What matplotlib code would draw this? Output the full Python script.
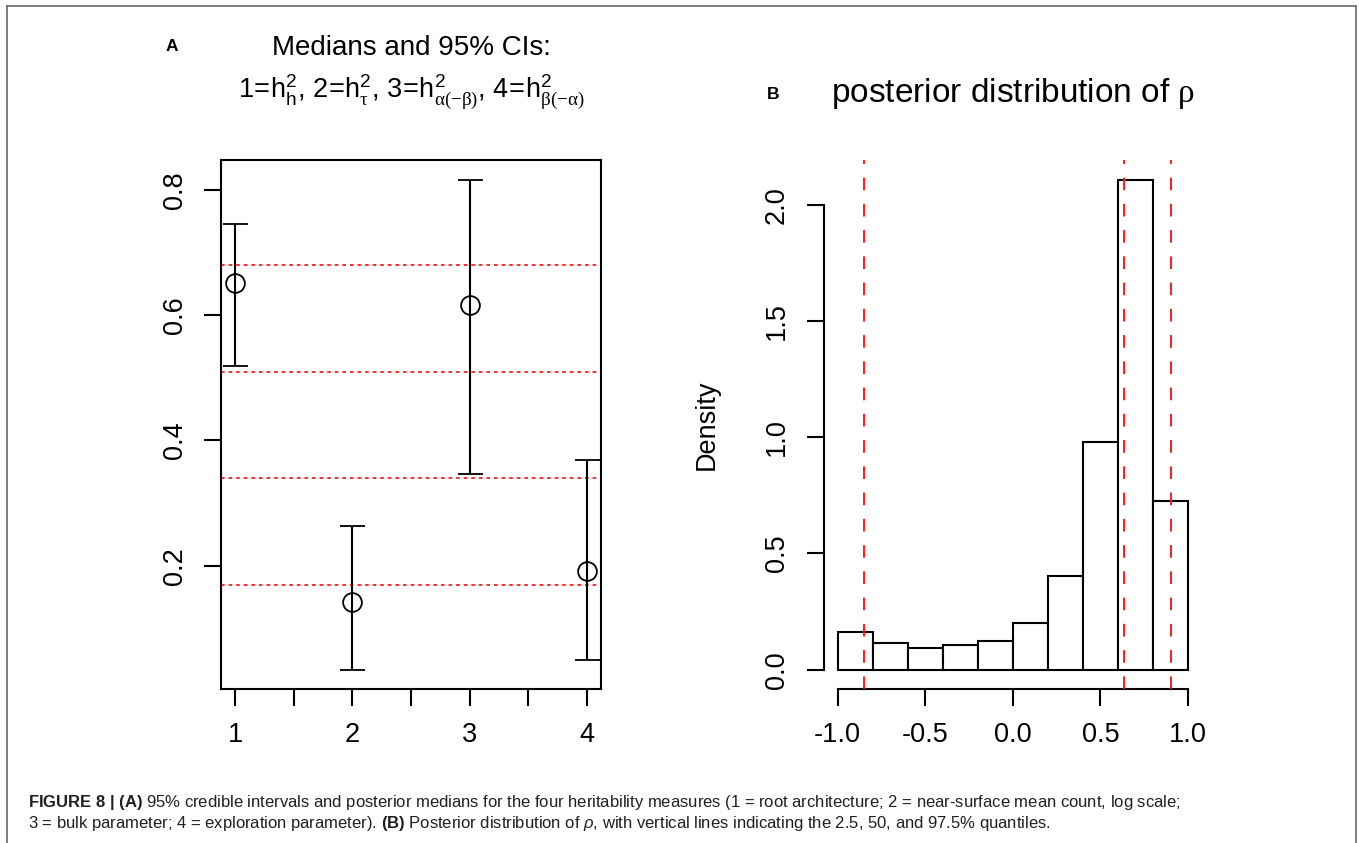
import matplotlib
matplotlib.use('Agg')
import matplotlib.pyplot as plt
from matplotlib.lines import Line2D

plt.rcParams['font.family'] = ['Liberation Sans', 'DejaVu Sans']
plt.rcParams['mathtext.fontset'] = 'custom'
plt.rcParams['mathtext.rm'] = 'Liberation Sans'
plt.rcParams['mathtext.it'] = 'Liberation Sans:italic'
plt.rcParams['mathtext.bf'] = 'Liberation Sans:bold'
plt.rcParams['mathtext.sf'] = 'Liberation Serif'  # used for the Greek letters
plt.rcParams['mathtext.default'] = 'regular'

# panel A: heritability medians and 95% CIs
measures = [1, 2, 3, 4]
medians = [0.652, 0.142, 0.617, 0.191]
ci_lower = [0.519, 0.034, 0.346, 0.050]
ci_upper = [0.746, 0.263, 0.816, 0.369]
ref_levels = [0.17, 0.34, 0.51, 0.68]
a_xticks = [1, 1.5, 2, 2.5, 3, 3.5, 4]
a_xlabels = ['1', '', '2', '', '3', '', '4']
a_yticks = [0.2, 0.4, 0.6, 0.8]
a_ylabels = ['0.2', '0.4', '0.6', '0.8']

# panel B: posterior of rho
rho_edges = [-1.0, -0.8, -0.6, -0.4, -0.2, 0.0, 0.2, 0.4, 0.6, 0.8, 1.0]
rho_density = [0.162, 0.117, 0.095, 0.107, 0.124, 0.202, 0.402, 0.980, 2.107, 0.727]
rho_quantiles = [-0.848, 0.637, 0.901]
b_xticks = [-1.0, -0.5, 0.0, 0.5, 1.0]
b_xlabels = ['-1.0', '-0.5', '0.0', '0.5', '1.0']
b_yticks = [0.0, 0.5, 1.0, 1.5, 2.0]
b_ylabels = ['0.0', '0.5', '1.0', '1.5', '2.0']

W, H = 1360, 843
fig = plt.figure(figsize=(W / 100, H / 100), dpi=100)


def fx(px):
    return px / W


def fy(py):
    return 1 - py / H


TICK_FS = 19.5
LW = 1.5
RED = '#ff1a1a'


def r_range(lo, hi):
    # R-style 4% axis extension
    r = hi - lo
    return lo - 0.04 * r, hi + 0.04 * r


def style_ticks(ax):
    ax.tick_params(axis='both', length=12.2, width=LW, labelsize=TICK_FS,
                   direction='out', colors='black')
    ax.tick_params(axis='x', pad=11.5)
    ax.tick_params(axis='y', pad=12)
    for lab in ax.get_yticklabels():
        lab.set_rotation(90)
        lab.set_va('center')
        lab.set_ha('right')


# ---------- panel A ----------
axA = fig.add_axes([fx(221.3), fy(689.3), fx(600.7) - fx(221.3), fy(160.3) - fy(689.3)])
for lvl in ref_levels:
    ln = axA.axhline(lvl, color=RED, lw=1.3, zorder=1)
    ln.set_dashes([2.0, 2.2])
yerr = [[m - l for m, l in zip(medians, ci_lower)],
        [u - m for m, u in zip(medians, ci_upper)]]
axA.errorbar(measures, medians, yerr=yerr, fmt='o', color='black', mfc='none',
             ms=13.5, mew=1.3, elinewidth=LW, capsize=9, capthick=LW, zorder=3)
axA.set_xlim(*r_range(min(measures), max(measures)))
axA.set_ylim(*r_range(min(ci_lower), max(ci_upper)))
axA.set_xticks(a_xticks)
axA.set_xticklabels(a_xlabels)
axA.set_yticks(a_yticks)
axA.set_yticklabels(a_ylabels)
for sp in axA.spines.values():
    sp.set_linewidth(LW)
style_ticks(axA)

# ---------- panel B ----------
axB = fig.add_axes([fx(823.7), fy(689.3), fx(1201.9) - fx(823.7), fy(160.3) - fy(689.3)])
widths = [b - a for a, b in zip(rho_edges[:-1], rho_edges[1:])]
axB.bar(rho_edges[:-1], rho_density, width=widths, align='edge', color='white',
        edgecolor='black', linewidth=LW, zorder=2)
for q in rho_quantiles:
    ln = axB.axvline(q, color=RED, lw=1.4, zorder=3)
    ln.set_dashes([6.5, 7.0])
axB.set_xlim(*r_range(rho_edges[0], rho_edges[-1]))
axB.set_ylim(*r_range(0, max(rho_density)))
axB.set_xticks(b_xticks)
axB.set_xticklabels(b_xlabels)
axB.set_yticks(b_yticks)
axB.set_yticklabels(b_ylabels)
axB.spines['top'].set_visible(False)
axB.spines['right'].set_visible(False)
axB.spines['left'].set_bounds(b_yticks[0], b_yticks[-1])
axB.spines['bottom'].set_bounds(b_xticks[0], b_xticks[-1])
for sp in axB.spines.values():
    sp.set_linewidth(LW)
style_ticks(axB)

fig.text(fx(706.7), fy(424.8), 'Density', rotation=90, ha='center', va='center',
         fontsize=TICK_FS)

# ---------- titles ----------
fig.text(fx(171.7), fy(46.7), 'A', fontsize=12.5, fontweight='bold', ha='center', va='center')
fig.text(fx(411), fy(55), 'Medians and 95% CIs:', fontsize=20, ha='center', va='baseline')
MINUS = '\u2212'
formula = (r'$1\!=\!h_{h}^{2}$, $2\!=\!h_{\mathsf{\tau}}^{2}$, '
           r'$3\!=\!h_{\mathsf{\alpha(MM\beta)}}^{2}$, $4\!=\!h_{\mathsf{\beta(MM\alpha)}}^{2}$')
formula = formula.replace('MM', MINUS)
fig.text(fx(411), fy(98), formula, fontsize=19.5, ha='center', va='baseline')

fig.text(fx(772.7), fy(94.3), 'B', fontsize=12.5, fontweight='bold', ha='center', va='center')
fig.text(fx(1012.8), fy(102), r'posterior distribution of $\mathsf{\rho}$', fontsize=24,
         ha='center', va='baseline')

# ---------- caption ----------
cap_col = '#231f20'
cap1 = (r'$\mathbf{FIGURE\ 8\ |\ (A)}$ 95% credible intervals and posterior medians for the four '
        r'heritability measures (1 = root architecture; 2 = near-surface mean count, log scale;')
cap2 = (r'3 = bulk parameter; 4 = exploration parameter). $\mathbf{(B)}$ Posterior distribution of '
        r'$\mathit{\rho}$, with vertical lines indicating the 2.5, 50, and 97.5% quantiles.')
fig.text(fx(28), fy(807), cap1, fontsize=12, color=cap_col, ha='left', va='baseline')
fig.text(fx(28), fy(828), cap2, fontsize=12, color=cap_col, ha='left', va='baseline')

# outer frame around the figure
frame_col = '#6a6a6a'
fig.add_artist(Line2D([fx(7), fx(7)], [fy(6), 0], color=frame_col, lw=1.2))
fig.add_artist(Line2D([fx(7), fx(1356)], [fy(6), fy(6)], color=frame_col, lw=1.2))
fig.add_artist(Line2D([fx(1356), fx(1356)], [fy(6), 0], color=frame_col, lw=1.2))

fig.savefig('out.png', dpi=100)
